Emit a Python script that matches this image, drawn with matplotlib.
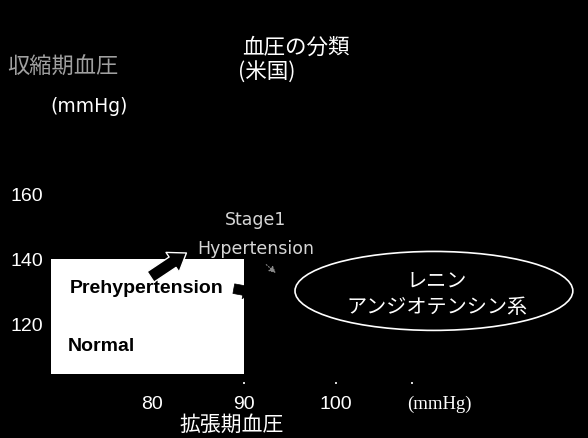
"""Blood pressure classification (US) slide, redrawn with matplotlib."""

import matplotlib
matplotlib.use("Agg")
import matplotlib.pyplot as plt
from matplotlib.patches import Rectangle, Ellipse, FancyArrowPatch

plt.rcParams["font.family"] = ["Liberation Sans", "Noto Sans CJK JP", "DejaVu Sans"]

# ---------------------------------------------------------------- data
X_TICKS = [80, 90, 100, 111.2]
X_TICK_LABELS = ["80", "90", "100", "(mmHg)"]
X_DOTS = [90, 100, 108.3]
Y_TICKS = [120, 140, 160]
Y_TICK_LABELS = ["120", "140", "160"]

# white region: normal + prehypertension (diastolic x systolic)
BOX_DIA = [69.0, 90.0]
BOX_SYS = [104.5, 140.0]

CATEGORIES = ["Prehypertension", "Normal"]
CAT_POS = [(71.1, 131.1), (70.9, 113.2)]

STAGE1_LINES = ["Stage1", "Hypertension"]
STAGE1_POS = [(91.3, 152.3), (91.3, 143.4)]

RAS_LINES = ["レニン", "アンジオテンシン系"]
RAS_POS = [(111.0, 133.2), (111.0, 125.2)]
RAS_CENTER = (110.65, 130.15)
RAS_SIZE = (30.2, 24.3)

TITLE = ["血圧の分類", "(米国)"]
Y_LABEL = "収縮期血圧"
X_LABEL = "拡張期血圧"

W, H = 588, 439


def fx(px):
    return px / W


def fy(py):
    return 1 - py / H


# ---------------------------------------------------------------- figure
fig = plt.figure(figsize=(W / 100, H / 100), dpi=100, facecolor="black")
ax = fig.add_axes([fx(48), fy(385), fx(540), 385 / H])
ax.set_facecolor("black")
ax.set_xlim(68.7, 127.4)
ax.set_ylim(101.5, 220.0)
for s in ax.spines.values():
    s.set_visible(False)

ax.set_xticks(X_TICKS)
ax.set_xticklabels(X_TICK_LABELS)
ax.set_yticks(Y_TICKS)
ax.set_yticklabels(Y_TICK_LABELS)
ax.tick_params(axis="both", length=0, colors="white", labelsize=14)
ax.tick_params(axis="x", pad=8)
ax.tick_params(axis="y", pad=3.5)
for lab in ax.get_xticklabels():
    if lab.get_text() == "(mmHg)":
        lab.set_fontfamily(["Liberation Serif"])
        lab.set_fontsize(13.5)

# small tick dots above the x labels
ax.xaxis.remove_overlapping_locs = False
ax.set_xticks(X_DOTS, minor=True)
ax.tick_params(axis="x", which="minor", length=1.5, width=1.2,
               direction="in", color="white")

# white category box
ax.add_patch(Rectangle((BOX_DIA[0], BOX_SYS[0]), BOX_DIA[1] - BOX_DIA[0],
                       BOX_SYS[1] - BOX_SYS[0], facecolor="white",
                       edgecolor="none", zorder=2))
for name, (x, y) in zip(CATEGORIES, CAT_POS):
    ax.text(x, y, name, ha="left", va="center", fontsize=14,
            fontweight="bold", color="black", zorder=4)

# stage 1 label
for line, (x, y) in zip(STAGE1_LINES, STAGE1_POS):
    ax.text(x, y, line, ha="center", va="center", fontsize=12.5,
            family=["DejaVu Sans"], color="#d6d6d6", zorder=4)

# black arrows (white outline)
ax.add_patch(FancyArrowPatch((79.6, 134.0), (84.0, 142.3),
                             arrowstyle="simple,head_length=12,head_width=17,tail_width=9",
                             facecolor="black", edgecolor="white", lw=1.0,
                             zorder=5, mutation_scale=1))
ax.add_patch(FancyArrowPatch((88.6, 131.0), (91.3, 129.6),
                             arrowstyle="simple,head_length=7,head_width=12,tail_width=7",
                             facecolor="black", edgecolor="black", lw=0.5,
                             zorder=5, mutation_scale=1))
ax.add_patch(FancyArrowPatch((92.2, 138.8), (93.7, 135.1),
                             arrowstyle="-|>,head_length=4,head_width=2",
                             color="#8a8a8a", lw=0.8, linestyle=":",
                             zorder=5, mutation_scale=1))

# renin-angiotensin ellipse
ax.add_patch(Ellipse(RAS_CENTER, RAS_SIZE[0], RAS_SIZE[1], facecolor="none",
                     edgecolor="white", lw=1.2, zorder=3))
for line, (x, y) in zip(RAS_LINES, RAS_POS):
    ax.text(x, y, line, ha="center", va="center", fontsize=14.5,
            family=["Noto Sans CJK JP"], color="white", zorder=4)

# figure-level texts
fig.text(fx(242), fy(48), TITLE[0], ha="left", va="center", fontsize=15.5,
         style="italic", color="white", family=["Noto Sans CJK JP"])
fig.text(fx(238), fy(73), TITLE[1], ha="left", va="center", fontsize=15.5,
         style="italic", color="white", family=["Noto Sans CJK JP"])
fig.text(fx(7), fy(67), Y_LABEL, ha="left", va="center", fontsize=16,
         color="#a0a0a0", family=["Noto Sans CJK JP"])
fig.text(fx(50), fy(106), "(mmHg)", ha="left", va="center", fontsize=13.5,
         color="white", family=["DejaVu Sans"])
fig.text(fx(232), fy(425), X_LABEL, ha="center", va="center", fontsize=15,
         color="white", family=["Noto Sans CJK JP"])

fig.savefig("out.png", dpi=100, facecolor="black")
